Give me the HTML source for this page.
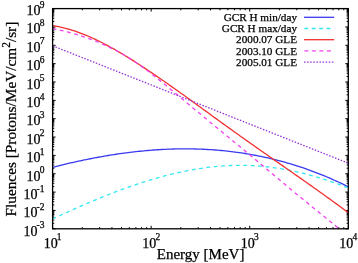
<!DOCTYPE html>
<html><head><meta charset="utf-8"><style>
html,body{margin:0;padding:0;background:#fff;}
svg{display:block;filter:blur(0.3px);}
text{font-family:"Liberation Serif",serif;fill:#000;stroke:#000;stroke-width:0.25px;}
.lab{font-size:14px;}
.sup{font-size:9.5px;}
.leg{font-size:11.2px;}
.ttl{font-size:15px;}
.yt{font-size:15.3px;}
.ln{fill:none;stroke-width:1.3;}
</style></head><body>
<svg width="358" height="263" viewBox="0 0 358 263">
<defs><clipPath id="pc"><rect x="52.60" y="8.60" width="295.70" height="220.20"/></clipPath></defs>
<rect width="358" height="263" fill="#fff"/>
<path d="M52.60,228.80h3.0M348.30,228.80h-3.0M52.60,223.28h1.7M348.30,223.28h-1.7M52.60,220.04h1.7M348.30,220.04h-1.7M52.60,217.75h1.7M348.30,217.75h-1.7M52.60,215.97h1.7M348.30,215.97h-1.7M52.60,214.52h1.7M348.30,214.52h-1.7M52.60,213.29h1.7M348.30,213.29h-1.7M52.60,212.23h1.7M348.30,212.23h-1.7M52.60,211.29h1.7M348.30,211.29h-1.7M52.60,210.45h3.0M348.30,210.45h-3.0M52.60,204.93h1.7M348.30,204.93h-1.7M52.60,201.69h1.7M348.30,201.69h-1.7M52.60,199.40h1.7M348.30,199.40h-1.7M52.60,197.62h1.7M348.30,197.62h-1.7M52.60,196.17h1.7M348.30,196.17h-1.7M52.60,194.94h1.7M348.30,194.94h-1.7M52.60,193.88h1.7M348.30,193.88h-1.7M52.60,192.94h1.7M348.30,192.94h-1.7M52.60,192.10h3.0M348.30,192.10h-3.0M52.60,186.58h1.7M348.30,186.58h-1.7M52.60,183.34h1.7M348.30,183.34h-1.7M52.60,181.05h1.7M348.30,181.05h-1.7M52.60,179.27h1.7M348.30,179.27h-1.7M52.60,177.82h1.7M348.30,177.82h-1.7M52.60,176.59h1.7M348.30,176.59h-1.7M52.60,175.53h1.7M348.30,175.53h-1.7M52.60,174.59h1.7M348.30,174.59h-1.7M52.60,173.75h3.0M348.30,173.75h-3.0M52.60,168.23h1.7M348.30,168.23h-1.7M52.60,164.99h1.7M348.30,164.99h-1.7M52.60,162.70h1.7M348.30,162.70h-1.7M52.60,160.92h1.7M348.30,160.92h-1.7M52.60,159.47h1.7M348.30,159.47h-1.7M52.60,158.24h1.7M348.30,158.24h-1.7M52.60,157.18h1.7M348.30,157.18h-1.7M52.60,156.24h1.7M348.30,156.24h-1.7M52.60,155.40h3.0M348.30,155.40h-3.0M52.60,149.88h1.7M348.30,149.88h-1.7M52.60,146.64h1.7M348.30,146.64h-1.7M52.60,144.35h1.7M348.30,144.35h-1.7M52.60,142.57h1.7M348.30,142.57h-1.7M52.60,141.12h1.7M348.30,141.12h-1.7M52.60,139.89h1.7M348.30,139.89h-1.7M52.60,138.83h1.7M348.30,138.83h-1.7M52.60,137.89h1.7M348.30,137.89h-1.7M52.60,137.05h3.0M348.30,137.05h-3.0M52.60,131.53h1.7M348.30,131.53h-1.7M52.60,128.29h1.7M348.30,128.29h-1.7M52.60,126.00h1.7M348.30,126.00h-1.7M52.60,124.22h1.7M348.30,124.22h-1.7M52.60,122.77h1.7M348.30,122.77h-1.7M52.60,121.54h1.7M348.30,121.54h-1.7M52.60,120.48h1.7M348.30,120.48h-1.7M52.60,119.54h1.7M348.30,119.54h-1.7M52.60,118.70h3.0M348.30,118.70h-3.0M52.60,113.18h1.7M348.30,113.18h-1.7M52.60,109.94h1.7M348.30,109.94h-1.7M52.60,107.65h1.7M348.30,107.65h-1.7M52.60,105.87h1.7M348.30,105.87h-1.7M52.60,104.42h1.7M348.30,104.42h-1.7M52.60,103.19h1.7M348.30,103.19h-1.7M52.60,102.13h1.7M348.30,102.13h-1.7M52.60,101.19h1.7M348.30,101.19h-1.7M52.60,100.35h3.0M348.30,100.35h-3.0M52.60,94.83h1.7M348.30,94.83h-1.7M52.60,91.59h1.7M348.30,91.59h-1.7M52.60,89.30h1.7M348.30,89.30h-1.7M52.60,87.52h1.7M348.30,87.52h-1.7M52.60,86.07h1.7M348.30,86.07h-1.7M52.60,84.84h1.7M348.30,84.84h-1.7M52.60,83.78h1.7M348.30,83.78h-1.7M52.60,82.84h1.7M348.30,82.84h-1.7M52.60,82.00h3.0M348.30,82.00h-3.0M52.60,76.48h1.7M348.30,76.48h-1.7M52.60,73.24h1.7M348.30,73.24h-1.7M52.60,70.95h1.7M348.30,70.95h-1.7M52.60,69.17h1.7M348.30,69.17h-1.7M52.60,67.72h1.7M348.30,67.72h-1.7M52.60,66.49h1.7M348.30,66.49h-1.7M52.60,65.43h1.7M348.30,65.43h-1.7M52.60,64.49h1.7M348.30,64.49h-1.7M52.60,63.65h3.0M348.30,63.65h-3.0M52.60,58.13h1.7M348.30,58.13h-1.7M52.60,54.89h1.7M348.30,54.89h-1.7M52.60,52.60h1.7M348.30,52.60h-1.7M52.60,50.82h1.7M348.30,50.82h-1.7M52.60,49.37h1.7M348.30,49.37h-1.7M52.60,48.14h1.7M348.30,48.14h-1.7M52.60,47.08h1.7M348.30,47.08h-1.7M52.60,46.14h1.7M348.30,46.14h-1.7M52.60,45.30h3.0M348.30,45.30h-3.0M52.60,39.78h1.7M348.30,39.78h-1.7M52.60,36.54h1.7M348.30,36.54h-1.7M52.60,34.25h1.7M348.30,34.25h-1.7M52.60,32.47h1.7M348.30,32.47h-1.7M52.60,31.02h1.7M348.30,31.02h-1.7M52.60,29.79h1.7M348.30,29.79h-1.7M52.60,28.73h1.7M348.30,28.73h-1.7M52.60,27.79h1.7M348.30,27.79h-1.7M52.60,26.95h3.0M348.30,26.95h-3.0M52.60,21.43h1.7M348.30,21.43h-1.7M52.60,18.19h1.7M348.30,18.19h-1.7M52.60,15.90h1.7M348.30,15.90h-1.7M52.60,14.12h1.7M348.30,14.12h-1.7M52.60,12.67h1.7M348.30,12.67h-1.7M52.60,11.44h1.7M348.30,11.44h-1.7M52.60,10.38h1.7M348.30,10.38h-1.7M52.60,9.44h1.7M348.30,9.44h-1.7M52.60,8.60h3.0M348.30,8.60h-3.0M52.60,228.80v-3.0M52.60,8.60v3.0M82.27,228.80v-1.7M82.27,8.60v1.7M99.63,228.80v-1.7M99.63,8.60v1.7M111.94,228.80v-1.7M111.94,8.60v1.7M121.50,228.80v-1.7M121.50,8.60v1.7M129.30,228.80v-1.7M129.30,8.60v1.7M135.90,228.80v-1.7M135.90,8.60v1.7M141.61,228.80v-1.7M141.61,8.60v1.7M146.66,228.80v-1.7M146.66,8.60v1.7M151.17,228.80v-3.0M151.17,8.60v3.0M180.84,228.80v-1.7M180.84,8.60v1.7M198.19,228.80v-1.7M198.19,8.60v1.7M210.51,228.80v-1.7M210.51,8.60v1.7M220.06,228.80v-1.7M220.06,8.60v1.7M227.87,228.80v-1.7M227.87,8.60v1.7M234.47,228.80v-1.7M234.47,8.60v1.7M240.18,228.80v-1.7M240.18,8.60v1.7M245.22,228.80v-1.7M245.22,8.60v1.7M249.73,228.80v-3.0M249.73,8.60v3.0M279.40,228.80v-1.7M279.40,8.60v1.7M296.76,228.80v-1.7M296.76,8.60v1.7M309.08,228.80v-1.7M309.08,8.60v1.7M318.63,228.80v-1.7M318.63,8.60v1.7M326.43,228.80v-1.7M326.43,8.60v1.7M333.03,228.80v-1.7M333.03,8.60v1.7M338.75,228.80v-1.7M338.75,8.60v1.7M343.79,228.80v-1.7M343.79,8.60v1.7M348.30,228.80v-3.0M348.30,8.60v3.0" stroke="#000" stroke-width="1" fill="none"/>
<g clip-path="url(#pc)">
<path d="M52.60,167.34 L54.58,166.84 L56.57,166.33 L58.55,165.84 L60.54,165.35 L62.52,164.87 L64.51,164.39 L66.49,163.92 L68.48,163.45 L70.46,162.99 L72.45,162.54 L74.43,162.09 L76.41,161.65 L78.40,161.22 L80.38,160.79 L82.37,160.37 L84.35,159.95 L86.34,159.55 L88.32,159.14 L90.31,158.75 L92.29,158.36 L94.28,157.98 L96.26,157.61 L98.24,157.24 L100.23,156.88 L102.21,156.52 L104.20,156.18 L106.18,155.84 L108.17,155.51 L110.15,155.18 L112.14,154.87 L114.12,154.56 L116.11,154.25 L118.09,153.96 L120.08,153.67 L122.06,153.39 L124.04,153.12 L126.03,152.86 L128.01,152.60 L130.00,152.35 L131.98,152.11 L133.97,151.88 L135.95,151.66 L137.94,151.44 L139.92,151.24 L141.91,151.04 L143.89,150.84 L145.87,150.66 L147.86,150.49 L149.84,150.32 L151.83,150.16 L153.81,150.02 L155.80,149.88 L157.78,149.75 L159.77,149.62 L161.75,149.51 L163.74,149.40 L165.72,149.31 L167.70,149.22 L169.69,149.15 L171.67,149.08 L173.66,149.02 L175.64,148.97 L177.63,148.93 L179.61,148.90 L181.60,148.87 L183.58,148.86 L185.57,148.86 L187.55,148.87 L189.53,148.88 L191.52,148.91 L193.50,148.94 L195.49,148.99 L197.47,149.05 L199.46,149.11 L201.44,149.19 L203.43,149.27 L205.41,149.37 L207.40,149.48 L209.38,149.59 L211.37,149.72 L213.35,149.86 L215.33,150.01 L217.32,150.16 L219.30,150.33 L221.29,150.51 L223.27,150.70 L225.26,150.90 L227.24,151.11 L229.23,151.34 L231.21,151.57 L233.20,151.81 L235.18,152.07 L237.16,152.34 L239.15,152.61 L241.13,152.90 L243.12,153.20 L245.10,153.51 L247.09,153.84 L249.07,154.17 L251.06,154.52 L253.04,154.88 L255.03,155.24 L257.01,155.63 L258.99,156.02 L260.98,156.42 L262.96,156.84 L264.95,157.27 L266.93,157.71 L268.92,158.16 L270.90,158.62 L272.89,159.10 L274.87,159.59 L276.86,160.09 L278.84,160.60 L280.82,161.13 L282.81,161.66 L284.79,162.22 L286.78,162.78 L288.76,163.35 L290.75,163.94 L292.73,164.54 L294.72,165.16 L296.70,165.78 L298.69,166.42 L300.67,167.08 L302.66,167.74 L304.64,168.42 L306.62,169.11 L308.61,169.82 L310.59,170.54 L312.58,171.27 L314.56,172.02 L316.55,172.77 L318.53,173.55 L320.52,174.33 L322.50,175.13 L324.49,175.94 L326.47,176.77 L328.45,177.61 L330.44,178.47 L332.42,179.34 L334.41,180.22 L336.39,181.11 L338.38,182.03 L340.36,182.95 L342.35,183.89 L344.33,184.84 L346.32,185.81 L348.30,186.79" class="ln" style="stroke:#3a3af0"/>
<path d="M52.60,218.90 L54.58,217.97 L56.57,217.05 L58.55,216.14 L60.54,215.22 L62.52,214.31 L64.51,213.41 L66.49,212.51 L68.48,211.61 L70.46,210.72 L72.45,209.83 L74.43,208.94 L76.41,208.06 L78.40,207.19 L80.38,206.32 L82.37,205.46 L84.35,204.60 L86.34,203.74 L88.32,202.90 L90.31,202.05 L92.29,201.22 L94.28,200.39 L96.26,199.56 L98.24,198.74 L100.23,197.93 L102.21,197.13 L104.20,196.33 L106.18,195.54 L108.17,194.75 L110.15,193.97 L112.14,193.20 L114.12,192.44 L116.11,191.68 L118.09,190.94 L120.08,190.20 L122.06,189.46 L124.04,188.74 L126.03,188.02 L128.01,187.32 L130.00,186.62 L131.98,185.93 L133.97,185.24 L135.95,184.57 L137.94,183.91 L139.92,183.25 L141.91,182.61 L143.89,181.97 L145.87,181.35 L147.86,180.73 L149.84,180.12 L151.83,179.53 L153.81,178.94 L155.80,178.36 L157.78,177.80 L159.77,177.24 L161.75,176.70 L163.74,176.16 L165.72,175.64 L167.70,175.13 L169.69,174.63 L171.67,174.14 L173.66,173.66 L175.64,173.20 L177.63,172.74 L179.61,172.30 L181.60,171.87 L183.58,171.46 L185.57,171.05 L187.55,170.66 L189.53,170.28 L191.52,169.91 L193.50,169.56 L195.49,169.22 L197.47,168.89 L199.46,168.57 L201.44,168.27 L203.43,167.99 L205.41,167.71 L207.40,167.45 L209.38,167.21 L211.37,166.98 L213.35,166.76 L215.33,166.56 L217.32,166.37 L219.30,166.20 L221.29,166.04 L223.27,165.90 L225.26,165.77 L227.24,165.66 L229.23,165.56 L231.21,165.48 L233.20,165.41 L235.18,165.36 L237.16,165.33 L239.15,165.31 L241.13,165.31 L243.12,165.33 L245.10,165.36 L247.09,165.41 L249.07,165.47 L251.06,165.55 L253.04,165.65 L255.03,165.77 L257.01,165.90 L258.99,166.05 L260.98,166.21 L262.96,166.39 L264.95,166.58 L266.93,166.80 L268.92,167.02 L270.90,167.27 L272.89,167.53 L274.87,167.80 L276.86,168.09 L278.84,168.40 L280.82,168.72 L282.81,169.05 L284.79,169.40 L286.78,169.77 L288.76,170.15 L290.75,170.54 L292.73,170.95 L294.72,171.37 L296.70,171.81 L298.69,172.26 L300.67,172.73 L302.66,173.21 L304.64,173.70 L306.62,174.21 L308.61,174.73 L310.59,175.27 L312.58,175.82 L314.56,176.38 L316.55,176.96 L318.53,177.55 L320.52,178.15 L322.50,178.77 L324.49,179.39 L326.47,180.04 L328.45,180.69 L330.44,181.36 L332.42,182.04 L334.41,182.73 L336.39,183.43 L338.38,184.15 L340.36,184.88 L342.35,185.62 L344.33,186.37 L346.32,187.14 L348.30,187.91" class="ln" style="stroke:#30e8f0;stroke-dasharray:3.8 3.6"/>
<path d="M52.60,25.58 L54.58,25.91 L56.57,26.27 L58.55,26.66 L60.54,27.09 L62.52,27.55 L64.51,28.04 L66.49,28.56 L68.48,29.11 L70.46,29.69 L72.45,30.31 L74.43,30.95 L76.41,31.62 L78.40,32.32 L80.38,33.05 L82.37,33.80 L84.35,34.58 L86.34,35.39 L88.32,36.23 L90.31,37.09 L92.29,37.97 L94.28,38.88 L96.26,39.81 L98.24,40.77 L100.23,41.75 L102.21,42.75 L104.20,43.77 L106.18,44.81 L108.17,45.87 L110.15,46.95 L112.14,48.05 L114.12,49.16 L116.11,50.30 L118.09,51.45 L120.08,52.61 L122.06,53.79 L124.04,54.99 L126.03,56.20 L128.01,57.42 L130.00,58.65 L131.98,59.90 L133.97,61.16 L135.95,62.43 L137.94,63.71 L139.92,64.99 L141.91,66.29 L143.89,67.60 L145.87,68.91 L147.86,70.23 L149.84,71.56 L151.83,72.90 L153.81,74.24 L155.80,75.59 L157.78,76.95 L159.77,78.32 L161.75,79.69 L163.74,81.06 L165.72,82.44 L167.70,83.83 L169.69,85.22 L171.67,86.62 L173.66,88.02 L175.64,89.43 L177.63,90.84 L179.61,92.26 L181.60,93.67 L183.58,95.09 L185.57,96.52 L187.55,97.95 L189.53,99.38 L191.52,100.81 L193.50,102.25 L195.49,103.68 L197.47,105.12 L199.46,106.56 L201.44,108.00 L203.43,109.44 L205.41,110.89 L207.40,112.33 L209.38,113.77 L211.37,115.21 L213.35,116.66 L215.33,118.10 L217.32,119.54 L219.30,120.98 L221.29,122.42 L223.27,123.85 L225.26,125.29 L227.24,126.72 L229.23,128.15 L231.21,129.58 L233.20,131.00 L235.18,132.42 L237.16,133.84 L239.15,135.25 L241.13,136.67 L243.12,138.08 L245.10,139.48 L247.09,140.89 L249.07,142.29 L251.06,143.69 L253.04,145.08 L255.03,146.48 L257.01,147.87 L258.99,149.27 L260.98,150.66 L262.96,152.05 L264.95,153.44 L266.93,154.82 L268.92,156.21 L270.90,157.59 L272.89,158.98 L274.87,160.36 L276.86,161.75 L278.84,163.13 L280.82,164.52 L282.81,165.90 L284.79,167.29 L286.78,168.67 L288.76,170.06 L290.75,171.44 L292.73,172.83 L294.72,174.22 L296.70,175.61 L298.69,177.00 L300.67,178.39 L302.66,179.78 L304.64,181.18 L306.62,182.58 L308.61,183.97 L310.59,185.38 L312.58,186.78 L314.56,188.19 L316.55,189.59 L318.53,191.01 L320.52,192.42 L322.50,193.84 L324.49,195.26 L326.47,196.68 L328.45,198.11 L330.44,199.54 L332.42,200.98 L334.41,202.41 L336.39,203.86 L338.38,205.30 L340.36,206.75 L342.35,208.21 L344.33,209.67 L346.32,211.14 L348.30,212.61" class="ln" style="stroke:#f03030"/>
<path d="M52.60,28.53 L54.58,28.95 L56.57,29.37 L58.55,29.81 L60.54,30.26 L62.52,30.73 L64.51,31.22 L66.49,31.72 L68.48,32.24 L70.46,32.77 L72.45,33.32 L74.43,33.89 L76.41,34.48 L78.40,35.09 L80.38,35.71 L82.37,36.36 L84.35,37.02 L86.34,37.70 L88.32,38.41 L90.31,39.13 L92.29,39.88 L94.28,40.65 L96.26,41.44 L98.24,42.25 L100.23,43.09 L102.21,43.95 L104.20,44.83 L106.18,45.74 L108.17,46.67 L110.15,47.63 L112.14,48.61 L114.12,49.62 L116.11,50.65 L118.09,51.71 L120.08,52.80 L122.06,53.92 L124.04,55.06 L126.03,56.23 L128.01,57.43 L130.00,58.66 L131.98,59.91 L133.97,61.20 L135.95,62.52 L137.94,63.86 L139.92,65.24 L141.91,66.65 L143.89,68.09 L145.87,69.55 L147.86,71.04 L149.84,72.55 L151.83,74.08 L153.81,75.63 L155.80,77.20 L157.78,78.78 L159.77,80.38 L161.75,81.99 L163.74,83.61 L165.72,85.24 L167.70,86.87 L169.69,88.51 L171.67,90.16 L173.66,91.81 L175.64,93.46 L177.63,95.11 L179.61,96.77 L181.60,98.43 L183.58,100.09 L185.57,101.75 L187.55,103.41 L189.53,105.06 L191.52,106.72 L193.50,108.38 L195.49,110.03 L197.47,111.69 L199.46,113.34 L201.44,114.98 L203.43,116.63 L205.41,118.27 L207.40,119.91 L209.38,121.54 L211.37,123.18 L213.35,124.82 L215.33,126.45 L217.32,128.08 L219.30,129.71 L221.29,131.34 L223.27,132.98 L225.26,134.61 L227.24,136.24 L229.23,137.87 L231.21,139.50 L233.20,141.14 L235.18,142.77 L237.16,144.41 L239.15,146.04 L241.13,147.68 L243.12,149.32 L245.10,150.97 L247.09,152.61 L249.07,154.26 L251.06,155.91 L253.04,157.57 L255.03,159.22 L257.01,160.89 L258.99,162.55 L260.98,164.22 L262.96,165.89 L264.95,167.56 L266.93,169.24 L268.92,170.91 L270.90,172.59 L272.89,174.27 L274.87,175.95 L276.86,177.62 L278.84,179.30 L280.82,180.97 L282.81,182.64 L284.79,184.31 L286.78,185.97 L288.76,187.63 L290.75,189.28 L292.73,190.94 L294.72,192.58 L296.70,194.22 L298.69,195.86 L300.67,197.49 L302.66,199.11 L304.64,200.74 L306.62,202.35 L308.61,203.97 L310.59,205.59 L312.58,207.20 L314.56,208.81 L316.55,210.42 L318.53,212.03 L320.52,213.64 L322.50,215.25 L324.49,216.86 L326.47,218.47 L328.45,220.08 L330.44,221.69 L332.42,223.30 L334.41,224.92 L336.39,226.54 L338.38,228.17 L340.36,229.79 L342.35,231.42 L344.33,233.06 L346.32,234.70 L348.30,236.35" class="ln" style="stroke:#f040f0;stroke-dasharray:3.8 3.6"/>
<path d="M52.60,45.8 L348.30,163.19" class="ln" style="stroke:#9430d8;stroke-dasharray:1.5 1.6"/>
</g>
<text x="297" y="20.90" class="leg" text-anchor="end">GCR H min/day</text><path d="M304.0,17.30H334.2" style="stroke:#3a3af0" class="ln"/><text x="297" y="32.10" class="leg" text-anchor="end">GCR H max/day</text><path d="M304.4,28.50H334.2" style="stroke:#30e8f0;stroke-dasharray:3.8 3.6 3.8 3.6 3.8 3.6 3.8 20" class="ln"/><text x="297" y="43.30" class="leg" text-anchor="end">2000.07 GLE</text><path d="M304.0,39.70H334.2" style="stroke:#f03030" class="ln"/><text x="297" y="54.50" class="leg" text-anchor="end">2003.10 GLE</text><path d="M304.4,50.90H334.2" style="stroke:#f040f0;stroke-dasharray:4 3.5 4 3.5 4 3.5 4 20" class="ln"/><text x="297" y="65.70" class="leg" text-anchor="end">2005.01 GLE</text><path d="M304.0,62.10H334.2" style="stroke:#9430d8;stroke-dasharray:1.5 1.6" class="ln"/>
<rect x="52.60" y="8.60" width="295.70" height="220.20" fill="none" stroke="#000" stroke-width="1.3"/>
<text x="44.5" y="14.90" class="lab" text-anchor="end">10<tspan class="sup" dx="-0.8" dy="-7.3">9</tspan></text><text x="44.5" y="33.30" class="lab" text-anchor="end">10<tspan class="sup" dx="-0.8" dy="-7.3">8</tspan></text><text x="44.5" y="51.70" class="lab" text-anchor="end">10<tspan class="sup" dx="-0.8" dy="-7.3">7</tspan></text><text x="44.5" y="70.10" class="lab" text-anchor="end">10<tspan class="sup" dx="-0.8" dy="-7.3">6</tspan></text><text x="44.5" y="88.50" class="lab" text-anchor="end">10<tspan class="sup" dx="-0.8" dy="-7.3">5</tspan></text><text x="44.5" y="106.90" class="lab" text-anchor="end">10<tspan class="sup" dx="-0.8" dy="-7.3">4</tspan></text><text x="44.5" y="125.30" class="lab" text-anchor="end">10<tspan class="sup" dx="-0.8" dy="-7.3">3</tspan></text><text x="44.5" y="143.70" class="lab" text-anchor="end">10<tspan class="sup" dx="-0.8" dy="-7.3">2</tspan></text><text x="44.5" y="162.10" class="lab" text-anchor="end">10<tspan class="sup" dx="-0.8" dy="-7.3">1</tspan></text><text x="44.5" y="180.50" class="lab" text-anchor="end">10<tspan class="sup" dx="-0.8" dy="-7.3">0</tspan></text><text x="44.5" y="198.90" class="lab" text-anchor="end">10<tspan class="sup" dx="-0.8" dy="-7.3">-1</tspan></text><text x="44.5" y="217.30" class="lab" text-anchor="end">10<tspan class="sup" dx="-0.8" dy="-7.3">-2</tspan></text><text x="44.5" y="235.70" class="lab" text-anchor="end">10<tspan class="sup" dx="-0.8" dy="-7.3">-3</tspan></text>
<text x="52.60" y="247.6" class="lab" text-anchor="middle">10<tspan class="sup" dx="-0.8" dy="-7.3">1</tspan></text><text x="151.17" y="247.6" class="lab" text-anchor="middle">10<tspan class="sup" dx="-0.8" dy="-7.3">2</tspan></text><text x="249.73" y="247.6" class="lab" text-anchor="middle">10<tspan class="sup" dx="-0.8" dy="-7.3">3</tspan></text><text x="348.30" y="247.6" class="lab" text-anchor="middle">10<tspan class="sup" dx="-0.8" dy="-7.3">4</tspan></text>
<text x="200.6" y="259.4" class="ttl" text-anchor="middle">Energy [MeV]</text>
<text transform="translate(16,119.1) rotate(-90)" class="yt" text-anchor="middle">Fluences [Protons/MeV/cm<tspan dy="-6.3" font-size="11.5">2</tspan><tspan dy="6.3">/sr]</tspan></text>
</svg>
</body></html>
